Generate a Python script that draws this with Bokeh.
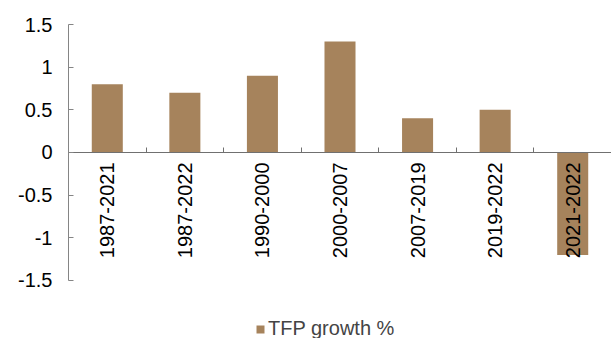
from math import pi
from bokeh.plotting import figure
from bokeh.models import (Range1d, FixedTicker, ColumnDataSource, Legend, LegendItem)
from bokeh.core.properties import value
from bokeh.embed import file_html
from bokeh.resources import INLINE

# ---- data ----
periods = ["1987-2021", "1987-2022", "1990-2000", "2000-2007", "2007-2019", "2019-2022", "2021-2022"]
tfp_growth = [0.8, 0.7, 0.9, 1.3, 0.4, 0.5, -1.2]
y_ticks = [-1.5, -1.0, -0.5, 0.0, 0.5, 1.0, 1.5]
y_tick_labels = ["-1.5", "-1", "-0.5", "0", "0.5", "1", "1.5"]
series_name = "TFP growth %"

BAR = "#A6835C"
FONT = "Liberation Sans"
AXIS = "#858585"

idx = list(range(len(periods)))
src = ColumnDataSource(dict(x=idx, top=tfp_growth, label=periods, zero=[0.0] * len(idx)))

p = figure(width=611, height=338, output_backend="svg", toolbar_location=None,
           x_range=Range1d(-0.5, len(periods) - 0.5),
           y_range=Range1d(-2.18, 1.5),
           min_border_left=68, min_border_right=0, min_border_top=24, min_border_bottom=0)
p.outline_line_color = None
p.grid.visible = False
p.background_fill_color = "white"
p.border_fill_color = "white"

bars = p.vbar(x="x", top="top", bottom=0, width=0.4, source=src,
              fill_color=BAR, line_color=None)

# category labels below the zero line, rotated
p.text(x="x", y="zero", text="label", source=src, angle=pi / 2,
       text_align="right", text_baseline="middle", y_offset=10,
       text_font=value(FONT), text_font_size="20px", text_color="black")

# y axis
ya = p.yaxis[0]
ya.ticker = FixedTicker(ticks=y_ticks)
ya.major_label_overrides = {t: l for t, l in zip(y_ticks, y_tick_labels)}
ya.bounds = (min(y_ticks), max(y_ticks))
ya.axis_line_color = AXIS
ya.major_tick_line_color = AXIS
ya.major_tick_in = 5
ya.major_tick_out = 0
ya.minor_tick_line_color = None
ya.major_label_standoff = 16
ya.major_label_text_font = FONT
ya.major_label_text_font_size = "20px"
ya.major_label_text_color = "black"

# x axis at zero
x_bounds = [i + 0.5 for i in idx[:-1]]
xa = p.xaxis[0]
xa.fixed_location = 0
xa.ticker = FixedTicker(ticks=x_bounds)
xa.major_label_overrides = {t: "" for t in x_bounds}
xa.major_tick_in = 5
xa.major_tick_out = 0
xa.minor_tick_line_color = None
xa.axis_line_color = "#707070"
xa.major_tick_line_color = "#707070"

legend = Legend(items=[LegendItem(label=series_name, renderers=[bars])],
                location=(187, -2), padding=0, margin=0, border_line_color=None,
                background_fill_alpha=0, glyph_width=10, glyph_height=10,
                label_standoff=3, label_text_font=FONT, label_text_font_size="20px",
                label_height=20)
p.add_layout(legend, "center")

open("out.html", "w").write(file_html(p, INLINE))
